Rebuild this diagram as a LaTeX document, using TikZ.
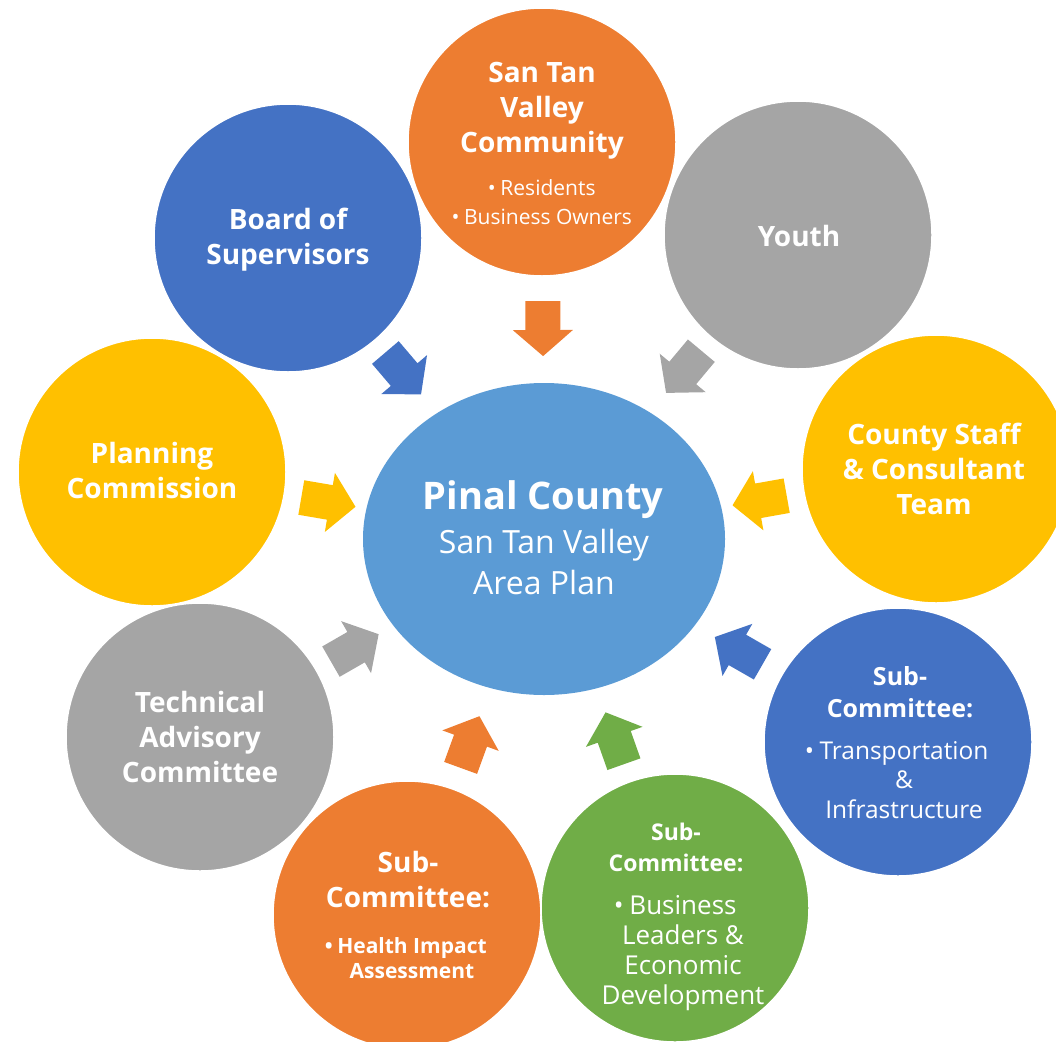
\documentclass[tikz,border=0pt]{standalone}
\usepackage{fontspec}
\setmainfont{Open Sans}
\usetikzlibrary{shapes.geometric,calc}
\definecolor{cBlue}{HTML}{4472C4}
\definecolor{cOrange}{HTML}{ED7D31}
\definecolor{cGray}{HTML}{A5A5A5}
\definecolor{cYellow}{HTML}{FFC000}
\definecolor{cGreen}{HTML}{70AD47}
\definecolor{cCtr}{HTML}{5B9BD5}
\newcommand\bulletmark{\llap{•\hspace{0.22em}}}
\begin{document}
\begin{tikzpicture}[x=1pt,y=-1pt,
  bub/.style={circle, minimum size=268pt, inner sep=0pt, draw=white, line width=1.5pt},
  ttl/.style={text=white, align=center, inner sep=0pt, font=\bfseries\fontsize{28}{35}\selectfont},
  bul/.style={text=white, align=center, inner sep=0pt},
  blockarrow/.pic={\fill[pic actions] (-27.5,-17.5) -- (1.5,-17.5) -- (1.5,-30) -- (27.5,0)
      -- (1.5,30) -- (1.5,17.5) -- (-27.5,17.5) -- cycle;}
]
\useasboundingbox (0,0) rectangle (1056,1041);
\clip (0,0) rectangle (1056,1041);

% outer circles
\node[bub, fill=cBlue]   (bos) at (288,238) {};
\node[bub, fill=cGray]   (yth) at (798,235) {};
\node[bub, fill=cOrange] (stv) at (542,142) {};
\node[bub, fill=cYellow] (pc)  at (152,472) {};
\node[bub, fill=cYellow] (cs)  at (936,469) {};
\node[bub, fill=cGray]   (tac) at (200,737) {};
\node[bub, fill=cBlue]   (tr)  at (898,742) {};
\node[bub, fill=cOrange] (hia) at (407,915) {};
\node[bub, fill=cGreen]  (bus) at (675,908) {};

% centre
\node[ellipse, minimum width=362pt, minimum height=312pt, inner sep=0pt, fill=cCtr] (ctr) at (544,539) {};

% block arrows (each points from its circle towards the centre)
\pic[fill=cOrange, rotate=-89.7]  (a1) at ($(stv)!0.47!(ctr)$) {blockarrow};
\pic[fill=cBlue,   rotate=-49.6]  (a2) at ($(bos)!0.45!(ctr)$) {blockarrow};
\pic[fill=cGray,   rotate=-129.9] (a3) at ($(yth)!0.45!(ctr)$) {blockarrow};
\pic[fill=cYellow, rotate=-9.7]   (a4) at ($(pc)!0.45!(ctr)$) {blockarrow};
\pic[fill=cYellow, rotate=-169.9] (a5) at ($(cs)!0.45!(ctr)$) {blockarrow};
\pic[fill=cGray,   rotate=29.9]   (a6) at ($(tac)!0.45!(ctr)$) {blockarrow};
\pic[fill=cBlue,   rotate=150.2]  (a7) at ($(tr)!0.45!(ctr)$) {blockarrow};
\pic[fill=cOrange, rotate=70.0]   (a8) at ($(hia)!0.46!(ctr)$) {blockarrow};
\pic[fill=cGreen,  rotate=109.5]  (a9) at ($(bus)!0.46!(ctr)$) {blockarrow};

% texts
\node[ttl] (stvT) at (542,111) {San Tan\\Valley\\Community};
\node[bul, font=\fontsize{21}{29}\selectfont] (stvB) at (548,202) {\bulletmark Residents\\\bulletmark Business Owners};
\node[ttl] (bosT) at (288,240) {Board of\\Supervisors};
\node[ttl] (ythT) at (799,236) {Youth};
\node[ttl] (pcT) at (152,470) {Planning\\Commission};
\node[ttl] (csT) at (934,469) {County Staff\\\& Consultant\\Team};
\node[ttl] (tacT) at (200,737) {Technical\\Advisory\\Committee};
\node[ttl, font=\bfseries\fontsize{25}{32}\selectfont] (trT) at (900,692) {Sub-\\Committee:};
\node[bul, font=\fontsize{24.5}{29.5}\selectfont] (trB) at (904,780) {\bulletmark Transportation\\\&\\Infrastructure};
\node[ttl, font=\bfseries\fontsize{28}{35}\selectfont] (hiaT) at (408,880) {Sub-\\Committee:};
\node[bul, font=\bfseries\fontsize{21}{25}\selectfont] (hiaB) at (412,958) {\bulletmark Health Impact\\Assessment};
\node[ttl, font=\bfseries\fontsize{23}{31}\selectfont] (busT) at (676,847) {Sub-\\Committee:};
\node[bul, font=\fontsize{26}{30}\selectfont] (busB) at (683,953) {\bulletmark Business\\Leaders \&\\Economic\\Development};
\node[ttl, font=\bfseries\fontsize{38}{46}\selectfont] (ctrT) at (543,500) {Pinal County};
\node[bul, font=\fontsize{32}{41}\selectfont] (ctrB) at (544,562) {San Tan Valley\\Area Plan};
\end{tikzpicture}
\end{document}
